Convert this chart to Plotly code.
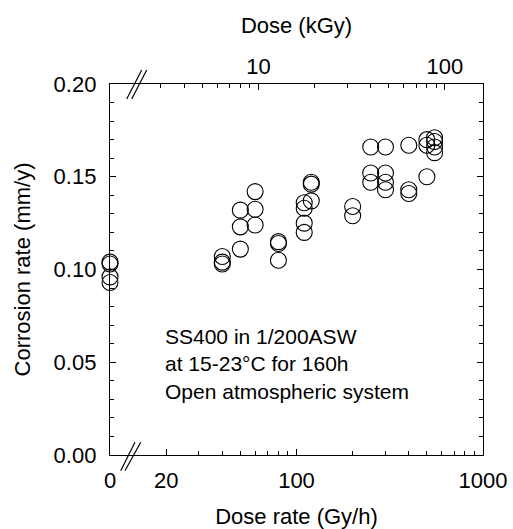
import math
import plotly.graph_objects as go

# ---- data (dose rate in Gy/h; 0 = unirradiated) ----
dose_rate = [0, 0, 0, 0,
             40, 40, 40,
             50, 50, 50,
             60, 60, 60,
             80, 80, 80,
             110, 110, 110, 110,
             120, 120, 120,
             200, 200,
             250, 250, 250,
             300, 300, 300, 300,
             400, 400, 400,
             500, 500, 500,
             550, 550, 550, 550]
corrosion_rate = [0.104, 0.103, 0.096, 0.093,
                  0.107, 0.104, 0.103,
                  0.132, 0.123, 0.111,
                  0.142, 0.1325, 0.124,
                  0.115, 0.114, 0.105,
                  0.136, 0.133, 0.125, 0.120,
                  0.147, 0.146, 0.137,
                  0.134, 0.129,
                  0.166, 0.152, 0.147,
                  0.166, 0.152, 0.147, 0.143,
                  0.167, 0.143, 0.141,
                  0.170, 0.167, 0.150,
                  0.171, 0.169, 0.166, 0.163]
irradiation_hours = 160

bottom_tickvals = [10, 20, 100, 1000]
bottom_ticktext = ["0", "20", "100", "1000"]
bottom_minor = [30, 40, 50, 60, 70, 80, 90, 200, 300, 400, 500, 600, 700, 800, 900]
top_tickvals = [10, 100]
top_ticktext = ["10", "100"]
top_minor = [3, 4, 5, 6, 7, 8, 9, 20, 30, 40, 50, 60, 70, 80, 90]
y_tickvals = [0.0, 0.05, 0.10, 0.15, 0.20]

x_min, x_max = 10, 1000
zero_position = x_min  # unirradiated samples drawn at the left edge (broken axis)

FONT = "Liberation Sans, Arial, Helvetica, sans-serif"
x_plot = [zero_position if d == 0 else d for d in dose_rate]

fig = go.Figure()
fig.add_trace(go.Scatter(
    x=x_plot, y=corrosion_rate, mode="markers",
    marker=dict(symbol="circle-open", size=16, color="black", line=dict(width=1.1, color="black")),
    cliponaxis=False, showlegend=False, hoverinfo="skip"))
# invisible trace for the top (dose) axis
fig.add_trace(go.Scatter(
    x=[x_min * irradiation_hours / 1000, x_max * irradiation_hours / 1000], y=[0, 0],
    xaxis="x2", mode="markers", marker=dict(opacity=0), showlegend=False, hoverinfo="skip"))

axis_common = dict(showgrid=False, zeroline=False, linecolor="black", linewidth=1.3,
                   tickcolor="black", automargin=False,
                   tickfont=dict(family=FONT, size=22, color="black"))

fig.update_layout(
    width=513, height=529,
    margin=dict(l=110, r=30, t=84, b=74),
    plot_bgcolor="white", paper_bgcolor="white",
    font=dict(family=FONT, color="black"),
    xaxis=dict(type="log", range=[math.log10(x_min), math.log10(x_max)],
               tickmode="array", tickvals=bottom_tickvals, ticktext=bottom_ticktext,
               ticks="inside", ticklen=6, tickwidth=1, showline=True, mirror=True,
               minor=dict(tickmode="array", tickvals=bottom_minor, ticks="inside", ticklen=3.5,
                          tickcolor="black", tickwidth=1),
               ticklabelstandoff=5,
               title=dict(text="Dose rate (Gy/h)", font=dict(family=FONT, size=22), standoff=19),
               **axis_common),
    xaxis2=dict(type="log", overlaying="x", side="top",
                range=[math.log10(x_min * irradiation_hours / 1000), math.log10(x_max * irradiation_hours / 1000)],
                tickmode="array", tickvals=top_tickvals, ticktext=top_ticktext,
                ticks="inside", ticklen=6, tickwidth=1, showline=False,
                minor=dict(tickmode="array", tickvals=top_minor, ticks="inside", ticklen=3.5,
                           tickcolor="black", tickwidth=1),
                ticklabelstandoff=5,
                title=dict(text="Dose (kGy)", font=dict(family=FONT, size=22), standoff=13),
                **axis_common),
    yaxis=dict(range=[0, 0.2], tickmode="array", tickvals=y_tickvals, tickformat=".2f",
               ticks="inside", ticklen=6, tickwidth=1, showline=True, mirror="ticks",
               minor=dict(dtick=0.01, ticks="inside", ticklen=3.5, tickcolor="black", tickwidth=1),
               ticklabelstandoff=8,
               title=dict(text="Corrosion rate (mm/y)", font=dict(family=FONT, size=22), standoff=16),
               **axis_common),
)

# axis break marks (decoration in paper coordinates)
for (x0, y0, x1, y1) in [(0.0448, 0.9596, 0.085, 1.0377), (0.0582, 0.9596, 0.0984, 1.0377),
                         (0.0287, -0.0423, 0.067, 0.0342), (0.0402, -0.0423, 0.0823, 0.0342)]:
    fig.add_shape(type="line", xref="paper", yref="paper", x0=x0, y0=y0, x1=x1, y1=y1,
                  line=dict(color="black", width=1.2), layer="above")

notes = ["SS400 in 1/200ASW", "at 15-23\u00b0C for 160h", "Open atmospheric system"]
fig.add_annotation(text="<br>".join(notes), xref="paper", yref="paper", x=0.142, y=0.2466,
                   xanchor="left", yanchor="middle", align="left", showarrow=False,
                   font=dict(family=FONT, size=21, color="black"))

fig.write_html("out.html")
